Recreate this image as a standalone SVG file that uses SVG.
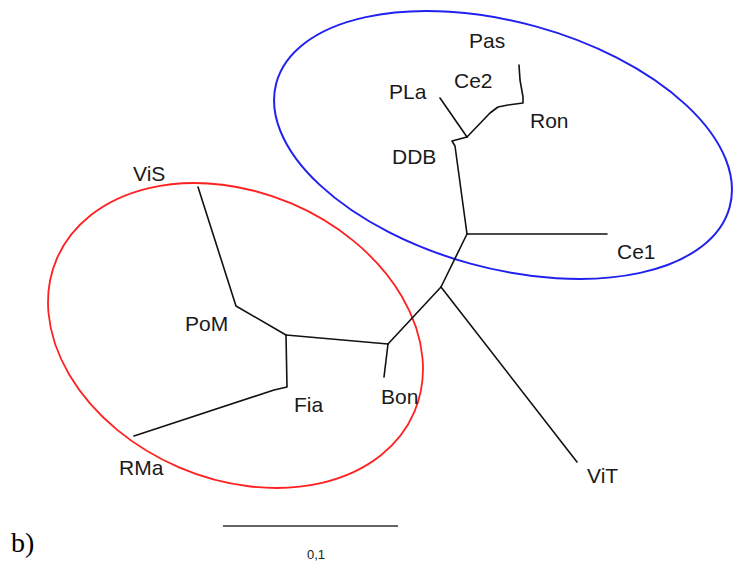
<svg xmlns="http://www.w3.org/2000/svg" width="733" height="566" viewBox="0 0 733 566">
<style>
.lbl{font-family:"Liberation Sans",Arial,sans-serif;font-size:21px;fill:#1a1a1a}
.edge{fill:none;stroke:#111;stroke-width:1.6;stroke-linejoin:round;stroke-linecap:round}
.cl{fill:none}
</style>
<rect width="733" height="566" fill="#fff"/>
<g id="cluster-red"><ellipse class="cl" cx="235.5" cy="335.5" rx="194.5" ry="143.4" transform="rotate(23.2 235.5 335.5)" stroke="#ff2020" stroke-width="1.8"/></g>
<g id="cluster-blue"><ellipse class="cl" cx="503" cy="145" rx="235" ry="123" transform="rotate(15.35 503 145)" stroke="#2020f0" stroke-width="2"/></g>
<g id="connectors">
<polyline class="edge" points="519,65 520,80 523,97 523,103 508,105 498,107 490,113 467,137"/>
<polyline class="edge" points="440,98 467,137"/>
<polyline class="edge" points="467,137 452,141 455,146 467,234"/>
<polyline class="edge" points="467,234 607,234"/>
<polyline class="edge" points="467,234 441,287"/>
<polyline class="edge" points="441,287 577,462"/>
<polyline class="edge" points="441,287 388,344"/>
<polyline class="edge" points="388,344 384,377"/>
<polyline class="edge" points="388,344 286,335"/>
<polyline class="edge" points="286,335 236,306 198,187"/>
<polyline class="edge" points="286,335 287,387 274,390 134,436"/>
</g>
<g id="Pas"><text class="lbl" x="469" y="48">Pas</text></g>
<g id="Ce2"><text class="lbl" x="454" y="88">Ce2</text></g>
<g id="PLa"><text class="lbl" x="389" y="99">PLa</text></g>
<g id="Ron"><text class="lbl" x="530" y="128">Ron</text></g>
<g id="DDB"><text class="lbl" x="392" y="164">DDB</text></g>
<g id="Ce1"><text class="lbl" x="617" y="259">Ce1</text></g>
<g id="ViS"><text class="lbl" x="133" y="181">ViS</text></g>
<g id="PoM"><text class="lbl" x="185" y="331">PoM</text></g>
<g id="Fia"><text class="lbl" x="294" y="412">Fia</text></g>
<g id="Bon"><text class="lbl" x="381" y="404">Bon</text></g>
<g id="RMa"><text class="lbl" x="119" y="475">RMa</text></g>
<g id="ViT"><text class="lbl" x="587" y="483">ViT</text></g>
<g id="scale">
<line x1="223" y1="526" x2="398" y2="526" stroke="#333" stroke-width="1.6"/>
<text x="307" y="559" font-family="Liberation Sans, Arial, sans-serif" font-size="13" fill="#222">0,1</text>
</g>
<g id="caption"><text x="11" y="552" font-family="Liberation Serif, Times New Roman, serif" font-size="28" fill="#000">b)</text></g>
</svg>
